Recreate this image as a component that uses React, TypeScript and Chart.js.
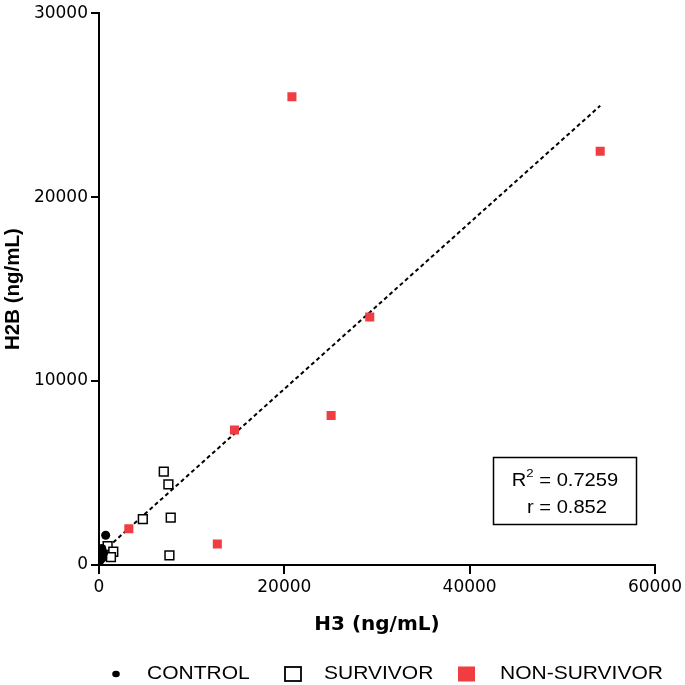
import { useEffect, useRef } from 'react';
import { Chart, registerables } from 'chart.js';

Chart.register(...registerables);

const controlX = [720, 300, 500, 100, 200, 400, 150, 50];
const controlY = [1620, 900, 650, 500, 300, 400, 750, 200];

const survivorX = [6990, 7490, 4730, 7740, 7600, 930, 1540, 1290];
const survivorY = [5080, 4380, 2500, 2580, 520, 1030, 720, 430];

const nonSurvivorX = [20820, 54090, 29220, 25050, 14620, 3220, 12770];
const nonSurvivorY = [25460, 22490, 13480, 8125, 7340, 1970, 1140];

const fitX = [970, 54090];
const fitY = [975, 24970];

const xTicks = [0, 20000, 40000, 60000];
const yTicks = [0, 10000, 20000, 30000];

const legendLabels = ['CONTROL', 'SURVIVOR', 'NON-SURVIVOR'];
const statsLines = ['0.7259', '0.852'];

const RED = '#ef3d42';
const FONT = 'DejaVu Sans';
const ARIAL = 'Liberation Sans';
const STRETCH = 1.2;

const toPts = (xs: number[], ys: number[]) => xs.map((x, i) => ({ x, y: ys[i] }));

// draw text horizontally stretched, starting at x (left aligned)
function stretchedText(ctx: CanvasRenderingContext2D, text: string, x: number, y: number, sx: number) {
  ctx.save();
  ctx.translate(x, y);
  ctx.scale(sx, 1);
  ctx.textAlign = 'left';
  ctx.fillText(text, 0, 0);
  ctx.restore();
  return ctx.measureText(text).width * sx;
}

const extrasPlugin = {
  id: 'extras',
  afterDraw(chart: any) {
    const ctx: CanvasRenderingContext2D = chart.ctx;
    ctx.save();
    // stats box
    ctx.strokeStyle = '#000';
    ctx.lineWidth = 1.5;
    ctx.strokeRect(493.5, 457.5, 143, 67);
    ctx.fillStyle = '#000';
    ctx.textBaseline = 'middle';
    const sx = 1.15;
    const big = `17.5px "${ARIAL}"`;
    const small = `11.5px "${ARIAL}"`;
    ctx.font = big;
    const wR = ctx.measureText('R').width * sx;
    const rest1 = ' = ' + statsLines[0];
    const wRest = ctx.measureText(rest1).width * sx;
    ctx.font = small;
    const wSup = ctx.measureText('2').width * sx;
    const total1 = wR + wSup + wRest;
    let x = 565 - total1 / 2;
    const y1 = 481;
    ctx.font = big;
    stretchedText(ctx, 'R', x, y1, sx);
    x += wR;
    ctx.font = small;
    stretchedText(ctx, '2', x, y1 - 7, sx);
    x += wSup;
    ctx.font = big;
    stretchedText(ctx, rest1, x, y1, sx);
    const line2 = 'r = ' + statsLines[1];
    const w2 = ctx.measureText(line2).width * sx;
    stretchedText(ctx, line2, 567 - w2 / 2, 508, sx);

    // legend
    const ly = 674;
    ctx.font = `17.5px "${ARIAL}"`;
    ctx.beginPath();
    ctx.ellipse(116, ly, 3.8, 3.3, 0, 0, Math.PI * 2);
    ctx.fill();
    stretchedText(ctx, legendLabels[0], 147, ly, STRETCH);
    ctx.lineWidth = 1.8;
    ctx.strokeRect(285, ly - 7, 16, 14);
    stretchedText(ctx, legendLabels[1], 324, ly, STRETCH);
    ctx.fillStyle = RED;
    ctx.fillRect(458, ly - 7.5, 17, 15);
    ctx.fillStyle = '#000';
    stretchedText(ctx, legendLabels[2], 500, ly, STRETCH);
    ctx.restore();
  },
};

export default function App() {
  const ref = useRef<HTMLCanvasElement>(null);
  useEffect(() => {
    if (!ref.current) return;
    const tickFont = { family: FONT, size: 17 };
    const plain = (v: any) => String(v);
    const chart = new Chart(ref.current, {
      type: 'scatter',
      data: {
        datasets: [
          {
            label: legendLabels[0],
            data: toPts(controlX, controlY),
            pointStyle: 'circle',
            pointRadius: 4.5,
            backgroundColor: '#000',
            borderWidth: 0,
          },
          {
            label: legendLabels[1],
            data: toPts(survivorX, survivorY),
            pointStyle: 'rect',
            pointRadius: 6.2,
            backgroundColor: '#fff',
            borderColor: '#000',
            borderWidth: 1.5,
          },
          {
            label: legendLabels[2],
            data: toPts(nonSurvivorX, nonSurvivorY),
            pointStyle: 'rect',
            pointRadius: 6.4,
            backgroundColor: RED,
            borderWidth: 0,
          },
          {
            label: 'fit',
            data: toPts(fitX, fitY),
            showLine: true,
            borderColor: '#000',
            borderWidth: 2,
            borderDash: [4, 3],
            pointRadius: 0,
            fill: false,
          } as any,
        ],
      },
      options: {
        responsive: false,
        animation: false,
        layout: { padding: { left: 0, top: 8, right: 28, bottom: 40 } },
        plugins: { legend: { display: false }, tooltip: { enabled: false } },
        scales: {
          x: {
            type: 'linear',
            min: 0,
            max: 60000,
            afterBuildTicks: (s: any) => {
              s.ticks = xTicks.map((v) => ({ value: v }));
            },
            ticks: { color: '#000', font: tickFont, padding: 3, maxRotation: 0, callback: plain },
            grid: { display: true, drawOnChartArea: false, drawTicks: true, tickLength: 9, color: '#000', lineWidth: 2 },
            border: { display: true, color: '#000', width: 2 },
            title: {
              display: true,
              text: 'H3 (ng/mL)',
              color: '#000',
              font: { family: FONT, size: 20, weight: 'bold' },
              padding: { top: 0, bottom: 8 },
            },
            afterFit: (s: any) => {
              s.height = 80;
            },
          },
          y: {
            type: 'linear',
            min: 0,
            max: 30000,
            afterBuildTicks: (s: any) => {
              s.ticks = yTicks.map((v) => ({ value: v }));
            },
            ticks: { color: '#000', font: tickFont, padding: 3, callback: plain },
            grid: { display: true, drawOnChartArea: false, drawTicks: true, tickLength: 8, color: '#000', lineWidth: 2 },
            border: { display: true, color: '#000', width: 2 },
            title: {
              display: true,
              text: 'H2B (ng/mL)',
              color: '#000',
              font: { family: ARIAL, size: 20.5, weight: 'bold' },
              padding: { top: 1, bottom: 0 },
            },
            afterFit: (s: any) => {
              s.width = 99;
            },
          },
        },
      },
      plugins: [extrasPlugin],
    });
    return () => chart.destroy();
  }, []);
  return (
    <div style={{ position: 'fixed', left: 0, top: 0, width: 685, height: 685, background: '#fff' }}>
      <canvas ref={ref} width={685} height={685} style={{ width: 685, height: 685 }} />
    </div>
  );
}
